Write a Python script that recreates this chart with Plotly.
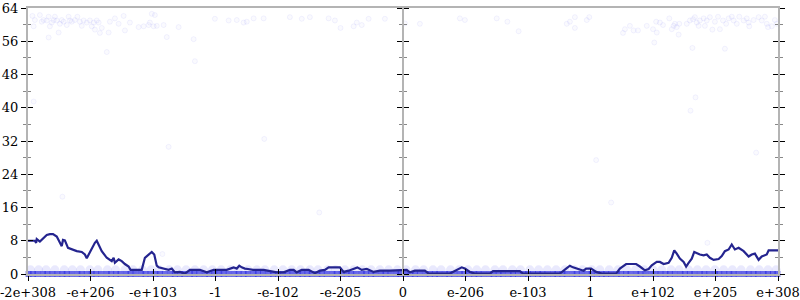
import plotly.graph_objects as go

# ---------------- data ----------------
tick_pos = [0, 1, 2, 3, 4, 5, 6, 7, 8, 9, 10, 11, 12]
tick_labels = ["-2e+308", "-e+206", "-e+103", "-1", "-e-102", "-e-205", "0",
               "e-206", "e-103", "1", "e+102", "e+205", "e+308"]
y_ticks = [0, 8, 16, 24, 32, 40, 48, 56, 64]

# running line
line_x = [0.00, 0.11, 0.13, 0.14, 0.19, 0.25, 0.30, 0.35, 0.40, 0.46, 0.51, 0.54, 0.56, 0.59,
          0.64, 0.70, 0.78, 0.86, 0.91, 0.94, 0.97, 1.02, 1.07, 1.10, 1.13, 1.18, 1.26, 1.34,
          1.37, 1.39, 1.45, 1.50, 1.55, 1.61, 1.64, 1.82, 1.87, 1.93, 1.98, 2.02, 2.06, 2.09,
          2.17, 2.25, 2.30, 2.35, 2.43, 2.51, 2.59, 2.75, 2.86, 2.97, 3.18, 3.29, 3.34, 3.38,
          3.42, 3.47, 3.52, 3.60, 3.77, 3.87, 3.98, 4.09, 4.19, 4.25, 4.30, 4.38, 4.49, 4.59,
          4.67, 4.75, 4.81, 4.99, 5.05, 5.13, 5.21, 5.27, 5.34, 5.42, 5.53, 5.63, 5.79, 5.95,
          6.00, 6.06, 6.11, 6.19, 6.35, 6.41, 6.75, 6.88, 6.94, 6.99, 7.07, 7.15, 7.39, 7.44,
          7.87, 7.92, 8.51, 8.61, 8.67, 8.72, 8.80, 8.89, 8.93, 9.01, 9.09, 9.18, 9.41, 9.47,
          9.57, 9.73, 9.79, 9.87, 9.93, 9.98, 10.06, 10.11, 10.17, 10.25, 10.30, 10.34, 10.38,
          10.43, 10.49, 10.53, 10.57, 10.62, 10.66, 10.70, 10.75, 10.81, 10.86, 10.91, 10.97,
          11.05, 11.10, 11.15, 11.21, 11.26, 11.31, 11.37, 11.45, 11.53, 11.58, 11.63, 11.69,
          11.74, 11.82, 11.85, 12.00]
line_y = [8.0, 8.0, 7.5, 8.4, 7.8, 8.6, 9.4, 9.6, 9.6, 9.0, 7.5, 6.7, 8.2, 8.1,
          6.3, 5.9, 5.5, 5.3, 4.7, 3.8, 4.7, 6.3, 7.5, 8.0, 7.1, 5.5, 3.9, 3.1,
          3.9, 2.7, 3.5, 3.1, 2.4, 1.8, 1.0, 1.0, 3.9, 4.7, 5.3, 4.7, 2.0, 1.6,
          1.3, 1.0, 1.3, 0.4, 0.5, 0.1, 1.0, 1.0, 0.4, 1.0, 1.0, 1.6, 1.3, 2.0,
          1.6, 1.3, 1.2, 1.0, 1.0, 0.8, 0.4, 0.4, 1.0, 1.0, 0.4, 1.0, 1.0, 0.2,
          0.8, 1.0, 1.6, 1.6, 0.5, 0.8, 1.3, 1.6, 1.0, 1.2, 0.5, 0.8, 0.8, 1.0,
          1.0, 1.0, 0.4, 0.8, 0.8, 0.1, 0.1, 1.0, 1.6, 1.3, 0.5, 0.1, 0.1, 0.7,
          0.7, 0.1, 0.1, 1.3, 2.0, 1.6, 1.3, 0.8, 1.3, 1.3, 0.5, 0.1, 0.1, 1.3,
          2.4, 2.4, 1.8, 0.9, 1.2, 2.1, 2.9, 2.9, 2.4, 2.7, 3.9, 5.7, 4.9,
          3.7, 2.9, 1.8, 2.7, 3.7, 5.3, 5.0, 4.7, 4.5, 4.7, 3.9, 3.4,
          3.6, 4.3, 5.5, 5.9, 7.1, 5.9, 6.3, 5.5, 4.2, 4.7, 4.9, 3.4,
          4.2, 4.7, 5.7, 5.7]

# scattered samples (high values and a few in between)
pts_x = [0.07, 0.09, 0.11, 0.19, 0.22, 0.25, 0.30, 0.33, 0.33, 0.35, 0.38, 0.41, 0.43, 0.46,
         0.49, 0.51, 0.54, 0.57, 0.62, 0.65, 0.67, 0.70, 0.75, 0.79, 0.83, 0.86, 0.89, 0.94,
         0.99, 1.02, 1.05, 1.07, 1.10, 1.13, 1.15, 1.18, 1.26, 1.29, 1.31, 1.39, 1.45, 1.53,
         1.55, 1.63, 1.77, 1.85, 1.93, 1.95, 1.98, 2.01, 2.03, 2.06, 2.17, 2.22, 2.41, 2.65,
         2.67, 2.99, 3.21, 3.34, 3.45, 3.50, 3.61, 3.77, 4.19, 4.38, 4.51, 4.81, 4.91, 5.00,
         5.21, 5.26, 5.34, 5.45, 5.71,
         6.03, 6.27, 6.91, 6.99, 7.50, 7.67, 7.85, 8.62, 8.67, 8.75, 8.75, 8.94, 8.98, 9.52,
         9.55, 9.63, 9.69, 9.76, 9.90, 10.00, 10.02, 10.06, 10.05, 10.11, 10.16, 10.26, 10.30,
         10.33, 10.35, 10.38, 10.41, 10.42, 10.54, 10.59, 10.63, 10.64, 10.67, 10.70, 10.73,
         10.75, 10.81, 10.83, 10.86, 10.91, 10.95, 10.99, 11.04, 11.07, 11.12, 11.15, 11.17,
         11.21, 11.26, 11.29, 11.34, 11.38, 11.45, 11.50, 11.53, 11.54, 11.61, 11.69, 11.74,
         11.79, 11.82, 11.84, 11.90, 11.95, 11.98,
         0.09, 2.25, 3.78, 0.55, 4.66, 2.15, 9.33, 10.87, 10.68, 10.60, 11.65, 9.09]
pts_y = [62.1, 59.6, 61.1, 62.3, 60.7, 61.1, 61.0, 61.9, 56.9, 59.6, 60.5, 61.1, 61.9, 61.0,
         58.1, 60.2, 61.1, 60.7, 59.9, 61.9, 61.0, 60.7, 61.1, 61.9, 60.7, 59.7, 61.0, 60.5,
         61.0, 59.6, 60.5, 58.8, 61.0, 60.5, 58.0, 59.2, 53.4, 58.1, 60.7, 61.5, 60.2, 62.1,
         58.6, 60.5, 59.4, 59.6, 59.9, 60.5, 62.6, 59.6, 62.3, 59.7, 59.9, 57.0, 59.4, 56.5,
         51.2, 61.4, 61.0, 61.1, 60.5, 60.7, 61.5, 61.5, 61.8, 61.4, 61.8, 61.5, 61.0, 59.2,
         59.6, 60.5, 59.9, 61.4, 61.4,
         60.3, 60.2, 61.5, 61.1, 61.5, 60.7, 58.4, 60.2, 60.7, 61.8, 59.2, 61.1, 61.8, 58.0,
         58.9, 59.7, 58.6, 58.6, 59.7, 58.9, 55.7, 58.1, 60.7, 60.5, 59.9, 61.5, 58.9,
         59.7, 60.2, 59.4, 57.6, 60.2, 60.2, 61.0, 54.4, 61.3, 61.8, 60.5, 59.7,
         61.0, 61.5, 59.7, 61.0, 61.8, 58.8, 60.7, 61.9, 58.9, 61.0, 54.2, 60.2,
         61.5, 61.9, 61.0, 60.2, 61.9, 61.0, 61.5, 60.5, 59.6, 61.1, 61.8, 61.0,
         61.9, 60.2, 59.4, 59.6, 61.1, 60.2,
         41.5, 30.6, 32.5, 18.6, 14.8, 4.8, 17.2, 7.5, 42.5, 39.3, 29.2, 27.4]

# samples at value 0 (dense band along the bottom)
zero_x = [0.01, 0.08, 0.15, 0.24, 0.31, 0.39, 0.47, 0.55, 0.62, 0.70, 0.79, 0.86, 0.94, 1.02,
          1.09, 1.17, 1.26, 1.33, 1.41, 1.48, 1.57, 1.64, 1.72, 1.81, 1.88, 1.96, 2.04, 2.11,
          2.19, 2.28, 2.35, 2.43, 2.50, 2.59, 2.66, 2.74, 2.83, 2.90, 2.98, 3.06, 3.13, 3.21,
          3.30, 3.37, 3.45, 3.52, 3.61, 3.68, 3.76, 3.85, 3.92, 4.00, 4.08, 4.15, 4.23, 4.32,
          4.39, 4.47, 4.54, 4.63, 4.70, 4.78, 4.87, 4.94, 5.02, 5.10, 5.17, 5.25, 5.34, 5.41,
          5.49, 5.56, 5.65, 5.72, 5.80, 5.89, 5.96, 6.04, 6.12, 6.19, 6.27, 6.36, 6.43, 6.51,
          6.58, 6.67, 6.74, 6.82, 6.91, 6.98, 7.06, 7.14, 7.21, 7.29, 7.38, 7.45, 7.53, 7.60,
          7.69, 7.76, 7.84, 7.93, 8.00, 8.08, 8.16, 8.23, 8.31, 8.40, 8.47, 8.55, 8.62, 8.71,
          8.78, 8.86, 8.95, 9.02, 9.10, 9.18, 9.25, 9.33, 9.42, 9.49, 9.57, 9.64, 9.73, 9.80,
          9.88, 9.97, 10.04, 10.12, 10.20, 10.27, 10.35, 10.44, 10.51, 10.59, 10.66, 10.75,
          10.82, 10.90, 10.99, 11.06, 11.14, 11.22, 11.29, 11.37, 11.46, 11.53, 11.61, 11.68,
          11.77, 11.84, 11.92, 11.99]

# samples at value 1 (faint band just above)
one_x = [0.04, 0.17, 0.29, 0.43, 0.58, 0.71, 0.84, 0.99, 1.12, 1.27, 1.40, 1.55, 1.68, 1.83,
         1.97, 2.10, 2.26, 2.39, 2.53, 2.67, 2.81, 2.95, 3.09, 3.24, 3.37, 3.52, 3.66, 3.79,
         3.94, 4.08, 4.22, 4.36, 4.51, 4.64, 4.79, 4.92, 5.07, 5.21, 5.35, 5.49, 5.63, 5.77,
         5.91, 6.05, 6.20, 6.33, 6.48, 6.61, 6.76, 6.90, 7.04, 7.18, 7.32, 7.47, 7.60, 7.75,
         7.88, 8.03, 8.17, 8.31, 8.45, 8.59, 8.74, 8.87, 9.02, 9.15, 9.30, 9.44, 9.58, 9.72,
         9.86, 10.00, 10.14, 10.29, 10.42, 10.57, 10.71, 10.85, 10.99, 11.13, 11.27, 11.41,
         11.56, 11.70, 11.84, 11.97]
one_y = [1.0] * len(one_x)
zero_y = [0.0] * len(zero_x)

# ---------------- figure ----------------
font_family = "DejaVu Serif"
axis_gray = "#b4b4b4"
tfont = dict(family=font_family, size=13, color="black")

fig = go.Figure()

fig.add_trace(go.Scatter(
    x=one_x, y=one_y, mode="markers", cliponaxis=False, hoverinfo="skip",
    marker=dict(size=9, color="rgba(120,120,240,0.16)", line=dict(width=0)),
    showlegend=False))
fig.add_trace(go.Scatter(
    x=zero_x, y=zero_y, mode="markers", cliponaxis=False, hoverinfo="skip",
    marker=dict(size=6, symbol="square", color="rgba(50,50,225,0.72)",
                line=dict(width=0)),
    showlegend=False))
fig.add_trace(go.Scatter(
    x=pts_x, y=pts_y, mode="markers", cliponaxis=False, hoverinfo="skip",
    marker=dict(size=5, color="rgba(120,120,240,0.04)",
                line=dict(width=1, color="rgba(120,120,240,0.09)")),
    showlegend=False))

# line drawn on an overlay subplot so it is above the points
fig.add_trace(go.Scatter(
    x=line_x, y=line_y, mode="lines", xaxis="x2", yaxis="y2",
    line=dict(color="#24248f", width=2.2), showlegend=False))

# empty traces so the extra axis overlays are instantiated
for ya in ["y3", "y4", "y5", "y6"]:
    fig.add_trace(go.Scatter(x=[], y=[], xaxis="x", yaxis=ya, showlegend=False))

common_x = dict(range=[0, 12], tickvals=tick_pos, showgrid=False, zeroline=False,
                automargin=False)
common_y = dict(range=[0, 64], tickvals=y_ticks, showgrid=False, zeroline=False,
                automargin=False)
minor_out = dict(ticks="outside", ticklen=3, tickcolor="#888888", dtick=4, tick0=0)
minor_in = dict(ticks="inside", ticklen=3, tickcolor="#888888", dtick=4, tick0=0)

fig.update_layout(
    width=800, height=300,
    margin=dict(l=28, r=22, t=8, b=26),
    plot_bgcolor="white", paper_bgcolor="white",
    font=tfont,
    xaxis=dict(**common_x, ticktext=tick_labels, ticks="outside", ticklen=5,
               tickcolor="black", tickwidth=1, showline=True, linecolor=axis_gray,
               linewidth=2, mirror=True, anchor="y", tickfont=tfont,
               ticklabeloverflow="allow"),
    xaxis2=dict(**common_x, overlaying="x", anchor="y2", ticks="inside", ticklen=5,
                tickcolor="black", showticklabels=False, showline=False),
    yaxis=dict(**common_y, ticks="outside", ticklen=5, tickcolor="black", tickwidth=1,
               showline=True, linecolor=axis_gray, linewidth=2, anchor="x",
               minor=minor_out, tickfont=tfont, ticklabeloverflow="allow"),
    yaxis2=dict(**common_y, overlaying="y", anchor="x2", side="left", ticks="inside",
                ticklen=5, tickcolor="black", showticklabels=False, showline=False,
                minor=minor_in),
    yaxis3=dict(**common_y, overlaying="y", anchor="x", side="right", ticks="outside",
                ticklen=5, tickcolor="black", showticklabels=False, showline=True,
                linecolor=axis_gray, linewidth=2, minor=minor_out),
    yaxis4=dict(**common_y, overlaying="y", anchor="x", side="right", ticks="inside",
                ticklen=5, tickcolor="black", showticklabels=False, showline=False,
                minor=minor_in),
    yaxis5=dict(**common_y, overlaying="y", anchor="free", position=0.5, side="left",
                ticks="outside", ticklen=5, tickcolor="black", showticklabels=False,
                showline=True, linecolor=axis_gray, linewidth=2, minor=minor_out),
    yaxis6=dict(**common_y, overlaying="y", anchor="free", position=0.5, side="right",
                ticks="outside", ticklen=5, tickcolor="black", showticklabels=False,
                showline=False, minor=minor_out),
)

fig.write_html("out.html")
